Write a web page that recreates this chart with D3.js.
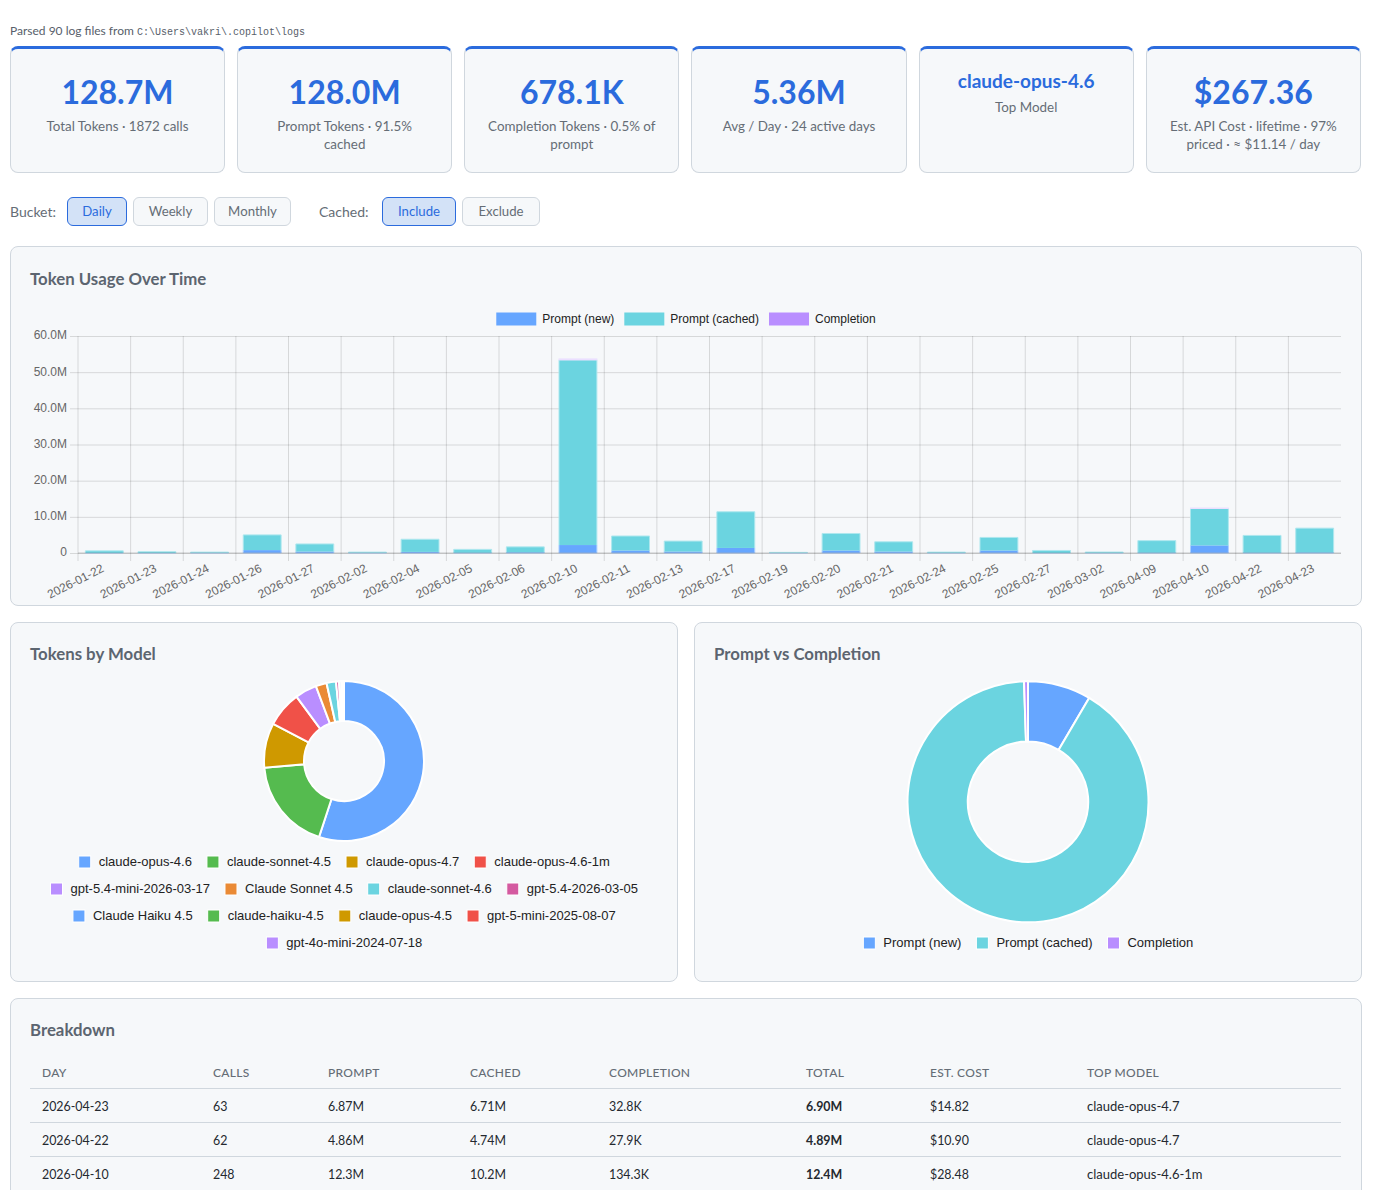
<!DOCTYPE html>
<html>
<head>
<meta charset="utf-8">
<script src="https://cdn.jsdelivr.net/npm/d3@7"></script>
<style>
  html, body { margin: 0; padding: 0; background: #fff; }
  body { width: 1386px; height: 1190px; overflow: hidden; position: relative; font-family: Lato, sans-serif; color: #24292f; }
  .abs { position: absolute; }
  #parsed { left: 10px; top: 23px; font-size: 12px; color: #57606a; }
  #parsed code { font-family: "Liberation Mono", monospace; font-size: 10px; }
  #cards { left: 9.9px; top: 46px; width: 1351px; display: grid; grid-template-columns: repeat(6, 1fr); gap: 12px; }
  .card { box-sizing: border-box; height: 127px; background: #f6f8fa; border: 1px solid #d0d7de; border-top: 3px solid #2b6bdd; border-radius: 8px; padding: 24px 20px 0; text-align: center; }
  .card .val { font-size: 32px; font-weight: 700; color: #2b6bdd; line-height: 38px; }
  .card .val.small { font-size: 19px; line-height: 22px; margin-top: -3px; }
  .card .lbl { font-size: 13.4px; color: #656d76; line-height: 18px; margin-top: 6px; }
  #controls { left: 10px; top: 197px; display: flex; align-items: center; height: 29px; font-size: 14px; color: #656d76; }
  .btn { box-sizing: border-box; height: 29px; line-height: 26px; text-align: center; margin-right: 6px; border: 1px solid #d0d7de; border-radius: 6px; background: #f6f8fa; font-size: 13.2px; color: #656d76; }
  .btn.on { background: #d3e2f7; border-color: #2b6bdd; color: #2b6bdd; }
  .panel { box-sizing: border-box; background: #f6f8fa; border: 1px solid #d0d7de; border-radius: 8px; }
  .panel h3 { position: absolute; left: 19px; top: 21px; margin: 0; font-size: 16.8px; font-weight: 700; color: #5c6570; line-height: 20px; }
  #usage h3 { top: 22px; }
  .panel svg { position: absolute; left: -1px; top: -1px; }
  svg text { font-family: "Liberation Sans", Arial, sans-serif; font-size: 12px; }
  svg .big text { font-size: 13px; }
  .grid line, .grid path { stroke: rgba(0,0,0,.13); fill: none; }
  table { position: absolute; left: 19px; top: 57px; width: 1311px; border-collapse: collapse; table-layout: fixed; font-size: 12.4px; color: #24292f; }
  th { font-size: 12px; font-weight: 500; letter-spacing: .3px; color: #656d76; text-align: left; height: 32px; padding: 2px 0 0 12px; border-bottom: 1px solid #d0d7de; box-sizing: border-box; }
  td { height: 34px; padding: 2px 0 0 12px; border-bottom: 1px solid #d0d7de; box-sizing: border-box; }
  td.total { font-weight: 700; }
  td.model { font-size: 13px; padding-top: 1px; }
</style>
</head>
<body>
<div id="parsed" class="abs">Parsed 90 log files from <code>C:\Users\vakri\.copilot\logs</code></div>
<div id="cards" class="abs"></div>
<div id="controls" class="abs"></div>
<div id="usage" class="abs panel" style="left:10px;top:246px;width:1352px;height:360px"><h3>Token Usage Over Time</h3></div>
<div id="models" class="abs panel" style="left:10px;top:622px;width:668px;height:360px"><h3>Tokens by Model</h3></div>
<div id="split" class="abs panel" style="left:694px;top:622px;width:668px;height:360px"><h3>Prompt vs Completion</h3></div>
<div id="breakdown" class="abs panel" style="left:10px;top:998px;width:1352px;height:300px"><h3>Breakdown</h3></div>
<script>
// summary cards
const cardValues = ['128.7M', '128.0M', '678.1K', '5.36M', 'claude-opus-4.6', '$267.36'];
const cardLabels = [
  'Total Tokens · 1872 calls',
  'Prompt Tokens · 91.5% cached',
  'Completion Tokens · 0.5% of prompt',
  'Avg / Day · 24 active days',
  'Top Model',
  'Est. API Cost · lifetime · 97% priced · ≈ $11.14 / day'
];

// daily usage, in millions of tokens
const days = ['2026-01-22','2026-01-23','2026-01-24','2026-01-26','2026-01-27','2026-02-02','2026-02-04','2026-02-05',
  '2026-02-06','2026-02-10','2026-02-11','2026-02-13','2026-02-17','2026-02-19','2026-02-20','2026-02-21',
  '2026-02-24','2026-02-25','2026-02-27','2026-03-02','2026-04-09','2026-04-10','2026-04-22','2026-04-23'];
const promptNew = [0.05,0.05,0.1,0.8,0.4,0.1,0.3,0.1,0.2,2.2,0.7,0.4,1.4,0.05,0.7,0.4,0.05,0.7,0.05,0.05,0.12,2.1,0.12,0.16];
const promptCached = [0.55,0.3,0.15,4.2,2.1,0.15,3.5,0.9,1.5,51.2,4.0,2.9,10.0,0.12,4.7,2.7,0.2,3.6,0.65,0.22,3.3,10.2,4.74,6.71];
const completion = [0.01,0.01,0.01,0.03,0.02,0.01,0.02,0.01,0.01,0.25,0.03,0.02,0.05,0.01,0.03,0.02,0.01,0.03,0.01,0.01,0.02,0.134,0.028,0.033];
const yTicks = [0, 10, 20, 30, 40, 50, 60];

const seriesNames = ['Prompt (new)', 'Prompt (cached)', 'Completion'];
const seriesColors = ['#66a6ff', '#6bd4e0', '#b98eff'];

// share of tokens per model, percent
const modelNames = ['claude-opus-4.6','claude-sonnet-4.5','claude-opus-4.7','claude-opus-4.6-1m','gpt-5.4-mini-2026-03-17',
  'Claude Sonnet 4.5','claude-sonnet-4.6','gpt-5.4-2026-03-05','Claude Haiku 4.5','claude-haiku-4.5','claude-opus-4.5',
  'gpt-5-mini-2025-08-07','gpt-4o-mini-2024-07-18'];
const modelShares = [55.0, 18.6, 9.0, 7.2, 4.4, 2.2, 1.9, 0.6, 0.45, 0.3, 0.15, 0.06, 0.04];
const modelColors = ['#66a6ff','#55bb4f','#cf9900','#f05148','#b98eff','#ea8a35','#6bd4e0','#d45aa0','#66a6ff','#55bb4f','#cf9900','#f05148','#b98eff'];

// prompt vs completion totals, millions
const splitValues = [10.9, 117.1, 0.678];

// breakdown table
const tableHead = ['DAY','CALLS','PROMPT','CACHED','COMPLETION','TOTAL','EST. COST','TOP MODEL'];
const tableRows = [
  ['2026-04-23','63','6.87M','6.71M','32.8K','6.90M','$14.82','claude-opus-4.7'],
  ['2026-04-22','62','4.86M','4.74M','27.9K','4.89M','$10.90','claude-opus-4.7'],
  ['2026-04-10','248','12.3M','10.2M','134.3K','12.4M','$28.48','claude-opus-4.6-1m']
];
const colWidths = [171, 115, 142, 139, 197, 124, 157, 266];

const bucketButtons = ['Daily', 'Weekly', 'Monthly'];
const cachedButtons = ['Include', 'Exclude'];
const buttonWidths = {Daily: 60, Weekly: 75, Monthly: 77, Include: 74, Exclude: 78};

// cards
const cards = d3.select('#cards').selectAll('.card').data(cardValues).join('div').attr('class', 'card');
cards.append('div').attr('class', (d, i) => i == 4 ? 'val small' : 'val').text(d => d);
cards.append('div').attr('class', 'lbl').text((d, i) => cardLabels[i]);

// controls
const ctl = d3.select('#controls');
ctl.append('span').style('width', '57px').text('Bucket:');
ctl.selectAll('.b1').data(bucketButtons).join('div').attr('class', (d, i) => i == 0 ? 'btn b1 on' : 'btn b1')
  .style('width', d => buttonWidths[d] + 'px').text(d => d);
ctl.append('span').style('margin-left', '22px').style('width', '63px').text('Cached:');
ctl.selectAll('.b2').data(cachedButtons).join('div').attr('class', (d, i) => i == 0 ? 'btn b2 on' : 'btn b2')
  .style('width', d => buttonWidths[d] + 'px').text(d => d);

// stacked bars
function drawUsage() {
  const W = 1352, H = 360;
  const m = {top: 90, right: 21, bottom: 53, left: 68};
  const svg = d3.select('#usage').append('svg').attr('width', W).attr('height', H);
  const x = d3.scaleBand().domain(days).range([m.left, W - m.right]);
  const y = d3.scaleLinear().domain([0, 60]).range([H - m.bottom, m.top]);

  svg.append('g').attr('class', 'grid')
    .attr('transform', `translate(${m.left},0)`)
    .call(d3.axisLeft(y).tickValues(yTicks).tickSize(8).tickSizeOuter(0).tickFormat(''))
    .call(g => g.selectAll('.tick line').attr('x2', W - m.left - m.right).attr('x1', -8))
    .call(g => g.select('.domain').remove());

  svg.append('g').attr('class', 'grid').selectAll('line').data(days).join('line')
    .attr('x1', d => x(d)).attr('x2', d => x(d))
    .attr('y1', m.top).attr('y2', H - m.bottom + 8);

  svg.append('g').attr('transform', `translate(${m.left},-1)`)
    .call(d3.axisLeft(y).tickValues(yTicks).tickSize(0).tickPadding(11).tickFormat(d => d == 0 ? '0' : d.toFixed(1) + 'M'))
    .call(g => g.select('.domain').remove())
    .call(g => g.selectAll('text').attr('fill', '#666'));

  const rows = days.map((d, i) => ({day: d, a: promptNew[i], b: promptCached[i], c: completion[i]}));
  const stack = d3.stack().keys(['a', 'b', 'c'])(rows);
  const barW = x.bandwidth() * 0.72;
  const hgt = d => y(d[0]) - y(d[1]);
  // dash the border so the edge shared by new and cached stays unpainted
  const dash = [
    d => `0 ${barW} ${barW + 2 * hgt(d)}`,
    d => `${barW + hgt(d)} ${barW} ${hgt(d)}`,
    d => null
  ];
  const edgeFade = [0.45, 0.45, 0.72];
  svg.append('g').selectAll('g').data(stack).join('g')
    .attr('fill', (d, i) => seriesColors[i])
    .attr('stroke', (d, i) => d3.interpolateRgb(seriesColors[i], '#fff')(edgeFade[i]))
    .each(function(s, k) {
      d3.select(this).selectAll('rect').data(s).join('rect')
        .attr('x', d => x(d.data.day) + (x.bandwidth() - barW) / 2)
        .attr('width', barW)
        .attr('y', d => y(d[1]))
        .attr('height', hgt)
        .attr('stroke-width', 1)
        .attr('stroke-dasharray', dash[k])
        // slivers of completion do not show up in the picture
        .attr('display', d => k == 2 && d[1] - d[0] < 0.1 ? 'none' : null);
    });

  // baseline sits over the bar feet
  svg.append('line').attr('x1', m.left).attr('x2', W - m.right)
    .attr('y1', y(0)).attr('y2', y(0)).attr('stroke', 'rgba(0,0,0,.2)');

  svg.append('g').attr('transform', `translate(0,${H - m.bottom})`)
    .call(d3.axisBottom(x).tickSize(0).tickPadding(0))
    .call(g => g.select('.domain').remove())
    .call(g => g.selectAll('text')
      .attr('fill', '#666')
      .attr('dy', 0)
      .attr('y', 0)
      .attr('text-anchor', 'end')
      .attr('transform', 'translate(0.5,18) rotate(-27)'));

  // legend, centred on the canvas
  const lg = svg.append('g');
  let cx = 0;
  seriesNames.forEach((n, i) => {
    const g = lg.append('g');
    g.append('rect').attr('width', 40).attr('height', 13).attr('y', -6.5).attr('fill', seriesColors[i]);
    const t = g.append('text').attr('x', 46).attr('y', 4).attr('fill', '#222').text(n);
    const w = 46 + t.node().getComputedTextLength();
    g.attr('transform', `translate(${cx},0)`);
    cx += w + 10;
  });
  lg.attr('transform', `translate(${(21 + W - 21 - (cx - 10)) / 2},73)`);
}

// wrapped, centred legend under a doughnut
function pieLegend(svg, names, colors, cx, startY, maxW) {
  const box = 12, gap = 8, pad = 15, lineH = 27;
  const root = svg.append('g').attr('class', 'big');
  const probe = root.append('text').attr('opacity', 0);
  const widths = names.map(n => box + gap + probe.text(n).node().getComputedTextLength());
  probe.remove();
  const lines = [[]];
  let used = 0;
  names.forEach((n, i) => {
    if (used + widths[i] > maxW && lines[lines.length - 1].length) { lines.push([]); used = 0; }
    lines[lines.length - 1].push(i);
    used += widths[i] + pad;
  });
  lines.forEach((line, r) => {
    const total = d3.sum(line, i => widths[i]) + pad * (line.length - 1);
    let px = cx - total / 2;
    line.forEach(i => {
      const g = root.append('g').attr('transform', `translate(${px},${startY + r * lineH})`);
      g.append('rect').attr('width', box).attr('height', box).attr('y', -5).attr('fill', colors[i])
        .attr('stroke', '#fff').attr('stroke-width', 1);
      g.append('text').attr('x', box + gap).attr('y', 5).attr('fill', '#222').text(names[i]);
      px += widths[i] + pad;
    });
  });
}

function drawDoughnut(sel, values, names, colors, r, cy, legendY) {
  const W = 668, H = 360;
  const svg = d3.select(sel).append('svg').attr('width', W).attr('height', H);
  const pie = d3.pie().sort(null)(values);
  const arc = d3.arc().innerRadius(r / 2).outerRadius(r);
  svg.append('g').attr('transform', `translate(${W / 2},${cy})`)
    .selectAll('path').data(pie).join('path')
    .attr('d', arc)
    .attr('fill', (d, i) => colors[i])
    .attr('stroke', '#fff').attr('stroke-width', 2);
  pieLegend(svg, names, colors, W / 2 + 0.3, legendY, 628);
}

drawUsage();
drawDoughnut('#models', modelShares, modelNames, modelColors, 80, 139, 239);
drawDoughnut('#split', splitValues, seriesNames, seriesColors, 120.5, 179.8, 320);

// breakdown
const table = d3.select('#breakdown').append('table');
table.append('colgroup').selectAll('col').data(colWidths).join('col').style('width', d => d + 'px');
table.append('thead').append('tr').selectAll('th').data(tableHead).join('th').text(d => d);
table.append('tbody').selectAll('tr').data(tableRows).join('tr')
  .selectAll('td').data(d => d).join('td')
  .attr('class', (d, i) => i == 5 ? 'total' : i == 7 ? 'model' : null)
  .text(d => d);
</script>
</body>
</html>
